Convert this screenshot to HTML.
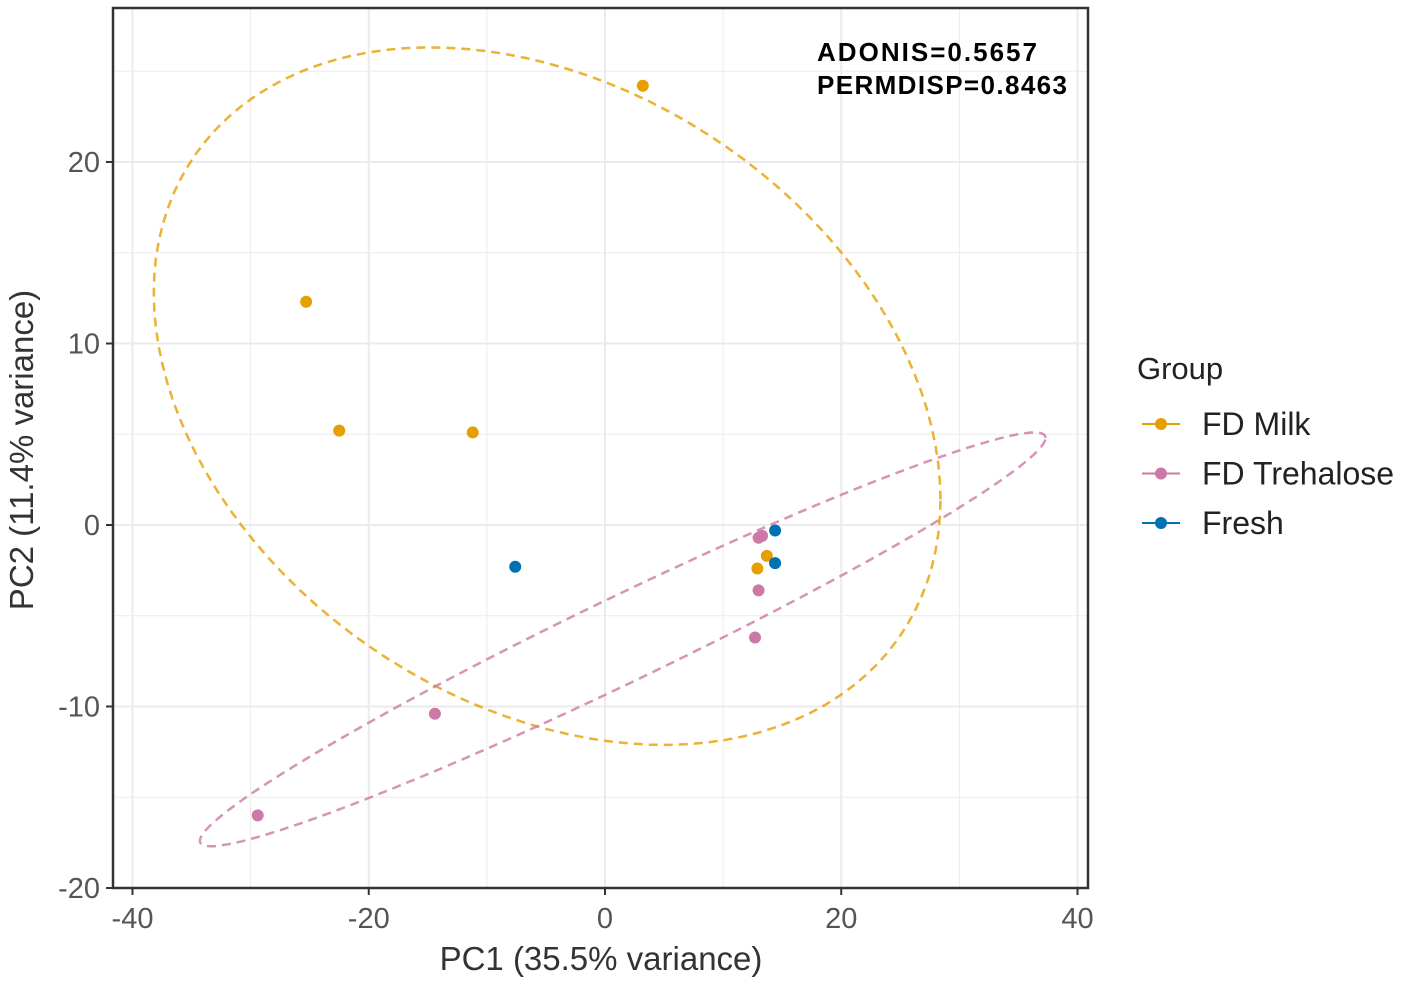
<!DOCTYPE html>
<html><head><meta charset="utf-8"><style>
body{margin:0;background:#fff;}
svg text{font-family:"Liberation Sans",sans-serif;}
</style></head><body>
<svg id="chart" width="1418" height="984" xmlns="http://www.w3.org/2000/svg">
<g id="grid"></g>
<g id="ells"></g>
<g id="pts"></g>
<rect x="113" y="8" width="975" height="880" fill="none" stroke="#333" stroke-width="2.5"/>
<g id="ticks"></g>
<text x="601" y="970" font-size="33" fill="#333" text-anchor="middle">PC1 (35.5% variance)</text>
<text transform="translate(33,450) rotate(-90)" font-size="33" fill="#333" text-anchor="middle">PC2 (11.4% variance)</text>
<text x="817" y="61" font-size="26" font-weight="bold" fill="#000" textLength="220">ADONIS=0.5657</text>
<text x="817" y="94" font-size="26" font-weight="bold" fill="#000" textLength="250">PERMDISP=0.8463</text>
<g id="legend">
<text x="1137" y="379" font-size="31" fill="#222">Group</text>
</g>
</svg>
<script>
const groups=["FD Milk","FD Trehalose","Fresh"];
const colors=["#E69F00","#CC79A7","#0072B2"];
const milkX=[3.2,-25.3,-22.5,-11.2,13.7,12.9];
const milkY=[24.2,12.3,5.2,5.1,-1.7,-2.4];
const trehX=[-29.4,-14.4,12.7,13.0,13.0,13.3];
const trehY=[-16.0,-10.4,-6.2,-3.6,-0.7,-0.6];
const freshX=[-7.6,14.4,14.4];
const freshY=[-2.3,-0.3,-2.1];
const xTicks=[-40,-20,0,20,40];
const yTicks=[-20,-10,0,10,20];
// ellipse params: center, conjugate semi-axis vectors (data units)
const milkEll=[-4.9,7.1,33.3,-5.7,0,18.35];
const trehEll=[1.5,-6.3,35.8,11.1,0,2.6];
const NS="http://www.w3.org/2000/svg";
const sx=v=>605+v*11.8125, sy=v=>525-v*18.15;
function mk(t,a,p){const e=document.createElementNS(NS,t);for(const k in a)e.setAttribute(k,a[k]);p.appendChild(e);return e;}
const grid=document.getElementById('grid');
for(let v=-40;v<=40;v+=10){if(sx(v)<113||sx(v)>1088)continue;const l=mk('line',{x1:sx(v),x2:sx(v),y1:8,y2:888,stroke:'#ebebeb','stroke-width':v%20==0?2:1},grid);

}
for(let v=-20;v<=25;v+=5){if(sy(v)<8||sy(v)>888)continue;const l=mk('line',{x1:113,x2:1088,y1:sy(v),y2:sy(v),stroke:'#ebebeb','stroke-width':v%10==0?2:1},grid);

}
const ticks=document.getElementById('ticks');
xTicks.forEach(v=>{mk('line',{x1:sx(v),x2:sx(v),y1:888,y2:895,stroke:'#333','stroke-width':2},ticks);
const t=mk('text',{x:sx(v),y:928,'font-size':29,fill:'#555','text-anchor':'middle'},ticks);t.textContent=v;

});
yTicks.forEach(v=>{mk('line',{x1:106,x2:113,y1:sy(v),y2:sy(v),stroke:'#333','stroke-width':2},ticks);
const t=mk('text',{x:100,y:sy(v)+10,'font-size':29,fill:'#555','text-anchor':'end'},ticks);t.textContent=v;

});
const ells=document.getElementById('ells');
[[milkEll,0],[trehEll,1]].forEach(([e,i])=>{let d='';for(let k=0;k<=120;k++){const a=k/120*2*Math.PI;
const x=e[0]+e[2]*Math.cos(a)+e[4]*Math.sin(a),y=e[1]+e[3]*Math.cos(a)+e[5]*Math.sin(a);d+=(k?'L':'M')+sx(x).toFixed(1)+','+sy(y).toFixed(1);}
const p=mk('path',{d:d,fill:'none',stroke:colors[i],'stroke-width':2.5,'stroke-dasharray':'9,6',opacity:0.8},ells);

});
const pts=document.getElementById('pts');
[[milkX,milkY],[trehX,trehY],[freshX,freshY]].forEach(([X,Y],i)=>X.forEach((x,j)=>{
const c=mk('circle',{cx:sx(x),cy:sy(Y[j]),r:6,fill:colors[i]},pts);

}));
const lg=document.getElementById('legend');
groups.forEach((g,i)=>{const y=424+i*49.5;
mk('line',{x1:1142,x2:1180,y1:y,y2:y,stroke:colors[i],'stroke-width':2},lg);
mk('circle',{cx:1161,cy:y,r:6,fill:colors[i]},lg);
const t=mk('text',{x:1202,y:y+11,'font-size':32,fill:'#222'},lg);t.textContent=g;

});
</script>
</body></html>
